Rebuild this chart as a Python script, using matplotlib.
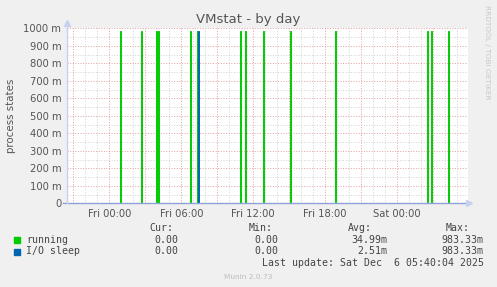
import matplotlib
matplotlib.use("Agg")
import matplotlib.pyplot as plt
import numpy as np

# ---- data (hours relative to Fri 00:00, values in milli-units) ----
running_hours = [0.89, 2.67, 3.91, 4.08, 6.73, 7.31, 10.89, 11.35, 12.83, 15.06, 18.85, 26.48, 26.78, 28.27]
running_peaks = [983.33] * 14
iosleep_hours = [7.42]
iosleep_peaks = [983.33]

xtick_hours = [0, 6, 12, 18, 24]
xtick_labels = ["Fri 00:00", "Fri 06:00", "Fri 12:00", "Fri 18:00", "Sat 00:00"]
ytick_vals = [0, 100, 200, 300, 400, 500, 600, 700, 800, 900, 1000]
ytick_labels = ["0"] + [f"{v} m" for v in ytick_vals[1:]]

legend_names = ["running", "I/O sleep"]
legend_colors = ["#00CC00", "#0066B3"]
cur_vals = ["0.00", "0.00"]
min_vals = ["0.00", "0.00"]
avg_vals = ["34.99m", "2.51m"]
max_vals = ["983.33m", "983.33m"]

STEP = 1 / 12  # 5-minute samples

def spike_path(hours, peaks):
    xs, ys = [], []
    for h, p in zip(hours, peaks):
        xs += [h, h, h + STEP, h + STEP]
        ys += [0, p, p, 0]
    return xs, ys

W, H = 497, 287
fig = plt.figure(figsize=(W / 100, H / 100), dpi=100, facecolor="#F0F0F0")
L, R, T, B = 66.7, 468.0, 28.3, 203.3
ax = fig.add_axes([L / W, 1 - B / H, (R - L) / W, (B - T) / H])
ax.set_facecolor("white")
XMIN, XMAX = -3.55, 29.9
ax.set_xlim(XMIN, XMAX)
ax.set_ylim(0, 1000)
for s in ax.spines.values():
    s.set_visible(False)

# grid
for v in range(50, 1001, 100):
    ax.axhline(v, color="#D4D4D4", lw=0.72, ls=(0, (1, 1.6)), zorder=1)
for v in range(100, 1001, 100):
    ax.axhline(v, color="#E4A4A4", lw=0.72, ls=(0, (1, 1.6)), zorder=1)
for h in range(-3, 30):
    if h % 3 != 0:
        ax.axvline(h, color="#D4D4D4", lw=0.72, ls=(0, (1, 1.6)), zorder=1)
for h in range(-3, 30, 3):
    ax.axvline(h, color="#E4A4A4", lw=0.72, ls=(0, (1, 1.6)), zorder=1)

# series
xr, yr = spike_path(running_hours, running_peaks)
ax.fill_between(xr, yr, color="#00CC00", alpha=0.3, lw=0, zorder=2)
ax.plot(xr, yr, color=legend_colors[0], lw=0.7, zorder=3, solid_joinstyle="miter")
xb, yb = spike_path(iosleep_hours, iosleep_peaks)
ax.fill_between(xb, yb, color="#0066B3", alpha=0.3, lw=0, zorder=2)
ax.plot(xb, yb, color=legend_colors[1], lw=0.7, zorder=3, solid_joinstyle="miter")

# axes lines & arrows
ax.plot([XMIN - 0.3, XMAX + 0.1], [0, 0], color="#8FA2D8", lw=1.0, clip_on=False, zorder=4)
ax.plot([XMIN, XMIN], [0, 1020], color="#C8D0F0", lw=1.0, clip_on=False, zorder=4)
ax.plot([XMAX + 0.1], [0], marker=">", ms=4, color="#C8D0F0", clip_on=False, zorder=4)
ax.plot([XMIN], [1030], marker="^", ms=4, color="#C8D0F0", clip_on=False, zorder=4)

# ticks
ax.set_yticks(ytick_vals)
ax.set_yticklabels(ytick_labels)
ax.set_xticks(xtick_hours)
ax.set_xticklabels(xtick_labels)
ax.tick_params(axis="both", length=0, labelsize=7.2, colors="#555555")
ax.tick_params(axis="y", pad=4)
ax.tick_params(axis="x", pad=4)
ax.set_ylabel("process states", fontsize=7.4, color="#555555", labelpad=5)

fig.text(248 / W, 1 - 19 / H, "VMstat - by day", ha="center", va="center",
         fontsize=9.5, color="#555555")
fig.text(487 / W, 1 - 5 / H, "RRDTOOL / TOBI OETIKER", rotation=-90, ha="center",
         va="top", fontsize=5.3, color="#C8C8C8")

mono = dict(family="DejaVu Sans Mono", fontsize=7.1, color="#444444", va="center")
def ty(y):
    return 1 - y / H
fig.text(173 / W, ty(228), "Cur:", ha="right", **mono)
fig.text(273 / W, ty(228), "Min:", ha="right", **mono)
fig.text(372 / W, ty(228), "Avg:", ha="right", **mono)
fig.text(470 / W, ty(228), "Max:", ha="right", **mono)
rows_y = [240, 251.5]
for i, y in enumerate(rows_y):
    fig.patches.append(plt.Rectangle((14 / W, ty(y + 3)), 6 / W, 6 / H,
                                     transform=fig.transFigure, color=legend_colors[i]))
    fig.text(26.5 / W, ty(y), legend_names[i], ha="left", **mono)
    fig.text(178.5 / W, ty(y), cur_vals[i], ha="right", **mono)
    fig.text(278.5 / W, ty(y), min_vals[i], ha="right", **mono)
    fig.text(387 / W, ty(y), avg_vals[i], ha="right", **mono)
    fig.text(483.5 / W, ty(y), max_vals[i], ha="right", **mono)
fig.text(483.5 / W, ty(263.3), "Last update: Sat Dec  6 05:40:04 2025", ha="right", **mono)
fig.text(248 / W, ty(276.7), "Munin 2.0.73", ha="center", va="center",
         fontsize=5.3, color="#BBBBBB")

fig.savefig("out.png", dpi=100, facecolor=fig.get_facecolor())
